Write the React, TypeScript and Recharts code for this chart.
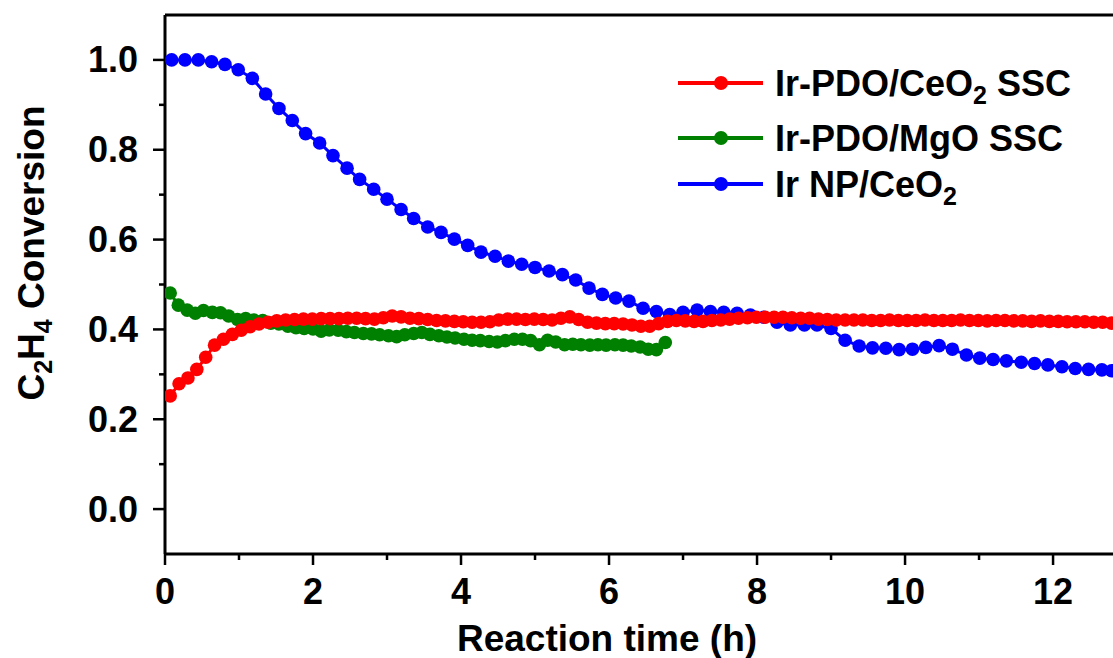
import React from "react";
import { LineChart, Line, XAxis, YAxis, ReferenceLine, Label } from "recharts";

const FONT = "'Liberation Sans', Arial, sans-serif";

// Ir-PDO/CeO2 SSC
const hoursCeSsc = [
  0.07, 0.19, 0.31, 0.43, 0.55, 0.67, 0.79, 0.91, 1.03, 1.15,
  1.27, 1.39, 1.51, 1.63, 1.75, 1.87, 1.99, 2.11, 2.23, 2.35,
  2.47, 2.59, 2.71, 2.83, 2.95, 3.07, 3.19, 3.31, 3.43, 3.55,
  3.67, 3.79, 3.91, 4.03, 4.15, 4.27, 4.39, 4.51, 4.63, 4.75,
  4.87, 4.99, 5.11, 5.23, 5.35, 5.47, 5.59, 5.71, 5.83, 5.95,
  6.07, 6.19, 6.31, 6.43, 6.55, 6.67, 6.79, 6.91, 7.03, 7.15,
  7.27, 7.39, 7.51, 7.63, 7.75, 7.87, 7.99, 8.11, 8.23, 8.35,
  8.47, 8.59, 8.71, 8.83, 8.95, 9.07, 9.19, 9.31, 9.43, 9.55,
  9.67, 9.79, 9.91, 10.03, 10.15, 10.27, 10.39, 10.51, 10.63, 10.75,
  10.87, 10.99, 11.11, 11.23, 11.35, 11.47, 11.59, 11.71, 11.83, 11.95,
  12.07, 12.19, 12.31, 12.43, 12.55, 12.67, 12.79,
];
const convCeSsc = [
  0.252, 0.279, 0.292, 0.311, 0.338, 0.365, 0.378, 0.389, 0.398, 0.406,
  0.412, 0.416, 0.419, 0.421, 0.422, 0.423, 0.423, 0.424, 0.424, 0.424,
  0.425, 0.425, 0.424, 0.423, 0.426, 0.43, 0.428, 0.425, 0.424, 0.422,
  0.42, 0.419, 0.418, 0.417, 0.416, 0.416, 0.417, 0.421, 0.423, 0.423,
  0.422, 0.423, 0.422, 0.421, 0.425, 0.428, 0.422, 0.416, 0.414, 0.413,
  0.413, 0.412, 0.41, 0.407, 0.407, 0.413, 0.418, 0.42, 0.419, 0.418,
  0.418, 0.42, 0.421, 0.423, 0.425, 0.426, 0.427, 0.427, 0.427, 0.427,
  0.426, 0.425, 0.425, 0.423, 0.422, 0.421, 0.421, 0.421, 0.421, 0.42,
  0.42, 0.421, 0.42, 0.42, 0.42, 0.421, 0.42, 0.42, 0.42, 0.421,
  0.42, 0.42, 0.419, 0.42, 0.42, 0.419, 0.419, 0.418, 0.419, 0.418,
  0.418, 0.417, 0.417, 0.417, 0.416, 0.416, 0.414,
];

// Ir-PDO/MgO SSC
const hoursMgoSsc = [
  0.07, 0.18, 0.3, 0.41, 0.52, 0.64, 0.75, 0.86, 0.98, 1.09,
  1.2, 1.32, 1.43, 1.54, 1.66, 1.77, 1.88, 2.0, 2.11, 2.22,
  2.34, 2.45, 2.56, 2.68, 2.79, 2.9, 3.02, 3.13, 3.24, 3.36,
  3.47, 3.58, 3.7, 3.81, 3.92, 4.04, 4.15, 4.26, 4.38, 4.49,
  4.6, 4.72, 4.83, 4.94, 5.06, 5.17, 5.28, 5.4, 5.51, 5.62,
  5.74, 5.85, 5.96, 6.08, 6.19, 6.3, 6.42, 6.53, 6.64, 6.76,
];
const convMgoSsc = [
  0.481, 0.454, 0.443, 0.436, 0.442, 0.438, 0.437, 0.43, 0.422, 0.424,
  0.421, 0.42, 0.414, 0.412, 0.407, 0.404, 0.402, 0.401, 0.396, 0.399,
  0.398, 0.395, 0.393, 0.391, 0.39, 0.388, 0.386, 0.384, 0.388, 0.391,
  0.393, 0.389, 0.386, 0.383, 0.381, 0.378, 0.376, 0.375, 0.373, 0.372,
  0.375, 0.378, 0.378, 0.375, 0.366, 0.376, 0.372, 0.366, 0.367, 0.366,
  0.365, 0.366, 0.365, 0.366, 0.365, 0.363, 0.361, 0.356, 0.355, 0.371,
];

// Ir NP/CeO2
const hoursNp = [
  0.09, 0.27, 0.45, 0.63, 0.81, 0.99, 1.18, 1.36, 1.54, 1.72,
  1.9, 2.09, 2.27, 2.46, 2.63, 2.82, 3.0, 3.19, 3.36, 3.55,
  3.73, 3.91, 4.09, 4.27, 4.46, 4.64, 4.82, 5.0, 5.19, 5.37,
  5.55, 5.73, 5.91, 6.09, 6.27, 6.46, 6.64, 6.82, 7.0, 7.19,
  7.37, 7.55, 7.73, 7.91, 8.09, 8.27, 8.45, 8.64, 8.81, 9.0,
  9.19, 9.38, 9.56, 9.74, 9.92, 10.1, 10.28, 10.46, 10.64, 10.83,
  11.01, 11.19, 11.37, 11.57, 11.75, 11.93, 12.12, 12.3, 12.48, 12.66,
  12.79,
];
const convNp = [
  1.0, 1.0, 1.0, 0.996, 0.99, 0.978, 0.959, 0.924, 0.892, 0.865,
  0.836, 0.815, 0.787, 0.759, 0.734, 0.712, 0.69, 0.667, 0.647, 0.628,
  0.616, 0.601, 0.587, 0.572, 0.563, 0.552, 0.545, 0.538, 0.53, 0.522,
  0.51, 0.492, 0.478, 0.47, 0.463, 0.447, 0.44, 0.433, 0.438, 0.443,
  0.44, 0.438, 0.436, 0.432, 0.427, 0.416, 0.41, 0.41, 0.41, 0.402,
  0.376, 0.363, 0.359, 0.358, 0.355, 0.356, 0.36, 0.364, 0.356, 0.343,
  0.336, 0.333, 0.33, 0.327, 0.324, 0.321, 0.317, 0.313, 0.311, 0.31,
  0.308,
];

const xTicks = [0, 1, 2, 3, 4, 5, 6, 7, 8, 9, 10, 11, 12];
const yTicks = [0, 0.1, 0.2, 0.3, 0.4, 0.5, 0.6, 0.7, 0.8, 0.9, 1.0];

const toPoints = (hours: number[], conv: number[]) =>
  hours.map((t, i) => ({ t, v: conv[i] }));

const ceSscData = toPoints(hoursCeSsc, convCeSsc);
const mgoSscData = toPoints(hoursMgoSsc, convMgoSsc);
const npData = toPoints(hoursNp, convNp);

const RED = "#ff0000";
const GREEN = "#008000";
const BLUE = "#0000ff";

const XTick = ({ x, y, payload }: any) => {
  const major = payload.value % 2 === 0;
  return (
    <g>
      <line x1={x} x2={x} y1={y} y2={y + (major ? 11 : 6)} stroke="#000" strokeWidth={2.5} />
      {major && (
        <text x={x} y={y + 50} textAnchor="middle" fontSize={36} fontWeight="bold" fontFamily={FONT} fill="#000">
          {payload.value}
        </text>
      )}
    </g>
  );
};

const YTick = ({ x, y, payload }: any) => {
  const major = Math.round(payload.value * 10) % 2 === 0;
  return (
    <g>
      <line x1={x} x2={x - (major ? 12 : 6)} y1={y} y2={y} stroke="#000" strokeWidth={2.5} />
      {major && (
        <text x={x - 27} y={y + 12.5} textAnchor="end" fontSize={36} fontWeight="bold" fontFamily={FONT} fill="#000">
          {payload.value.toFixed(1)}
        </text>
      )}
    </g>
  );
};

const YTitle = ({ viewBox }: any) => {
  const cx = viewBox.x + 44;
  const cy = 253;
  return (
    <text
      x={cx}
      y={cy}
      transform={`rotate(-90, ${cx}, ${cy})`}
      textAnchor="middle"
      fontSize={37}
      fontWeight="bold"
      fontFamily={FONT}
      fill="#000"
    >
      C<tspan fontSize={25} dy={8}>2</tspan>
      <tspan dy={-8}>H</tspan>
      <tspan fontSize={25} dy={8}>4</tspan>
      <tspan dy={-8}> Conversion</tspan>
    </text>
  );
};

const XTitle = ({ viewBox }: any) => (
  <text
    x={viewBox.x + 442}
    y={651}
    textAnchor="middle"
    fontSize={37}
    fontWeight="bold"
    fontFamily={FONT}
    fill="#000"
  >
    Reaction time (h)
  </text>
);

const legendRows = [
  { color: RED, y: 83, label: ["Ir-PDO/CeO", "2", " SSC"] },
  { color: GREEN, y: 138, label: ["Ir-PDO/MgO SSC", "", ""] },
  { color: BLUE, y: 184, label: ["Ir NP/CeO", "2", ""] },
];

const LegendBox = () => (
  <svg width={1113} height={658} style={{ position: "absolute", left: 0, top: 0, pointerEvents: "none" }}>
    {legendRows.map((row) => (
      <g key={row.color}>
        <line x1={678} x2={763} y1={row.y} y2={row.y} stroke={row.color} strokeWidth={4} />
        <circle cx={721} cy={row.y} r={7} fill={row.color} />
        <text x={775} y={row.y + 13} fontSize={36} fontWeight="bold" fontFamily={FONT} fill="#000">
          {row.label[0]}
          {row.label[1] && (
            <tspan fontSize={25} dy={8}>
              {row.label[1]}
            </tspan>
          )}
          {row.label[2] && <tspan dy={row.label[1] ? -8 : 0}>{row.label[2]}</tspan>}
        </text>
      </g>
    ))}
  </svg>
);

export default function App() {
  return (
    <div style={{ position: "fixed", left: 0, top: 0, width: 1113, height: 658, background: "#fff" }}>
      <LineChart width={1113} height={658} margin={{ top: 15, right: 0, bottom: 0, left: 0 }}>
        <XAxis
          type="number"
          dataKey="t"
          domain={[0, 12.81]}
          allowDataOverflow
          ticks={xTicks}
          interval={0}
          tick={<XTick />}
          tickSize={0}
          tickMargin={0}
          tickLine={false}
          axisLine={{ stroke: "#000", strokeWidth: 3 }}
          height={104}
        >
          <Label content={<XTitle />} />
        </XAxis>
        <YAxis
          type="number"
          domain={[-0.1, 1.1]}
          allowDataOverflow
          ticks={yTicks}
          interval={0}
          tick={<YTick />}
          tickSize={0}
          tickMargin={0}
          tickLine={false}
          axisLine={{ stroke: "#000", strokeWidth: 3 }}
          width={165}
        >
          <Label content={<YTitle />} />
        </YAxis>
        <ReferenceLine y={1.1} stroke="#000" strokeWidth={3} />
        <Line
          data={npData}
          dataKey="v"
          type="linear"
          stroke={BLUE}
          strokeWidth={3}
          dot={{ r: 6.8, fill: BLUE, stroke: BLUE, strokeWidth: 0 }}
          activeDot={false}
          isAnimationActive={false}
        />
        <Line
          data={mgoSscData}
          dataKey="v"
          type="linear"
          stroke={GREEN}
          strokeWidth={3}
          dot={{ r: 6.8, fill: GREEN, stroke: GREEN, strokeWidth: 0 }}
          activeDot={false}
          isAnimationActive={false}
        />
        <Line
          data={ceSscData}
          dataKey="v"
          type="linear"
          stroke={RED}
          strokeWidth={3}
          dot={{ r: 6.8, fill: RED, stroke: RED, strokeWidth: 0 }}
          activeDot={false}
          isAnimationActive={false}
        />
      </LineChart>
      <LegendBox />
    </div>
  );
}
